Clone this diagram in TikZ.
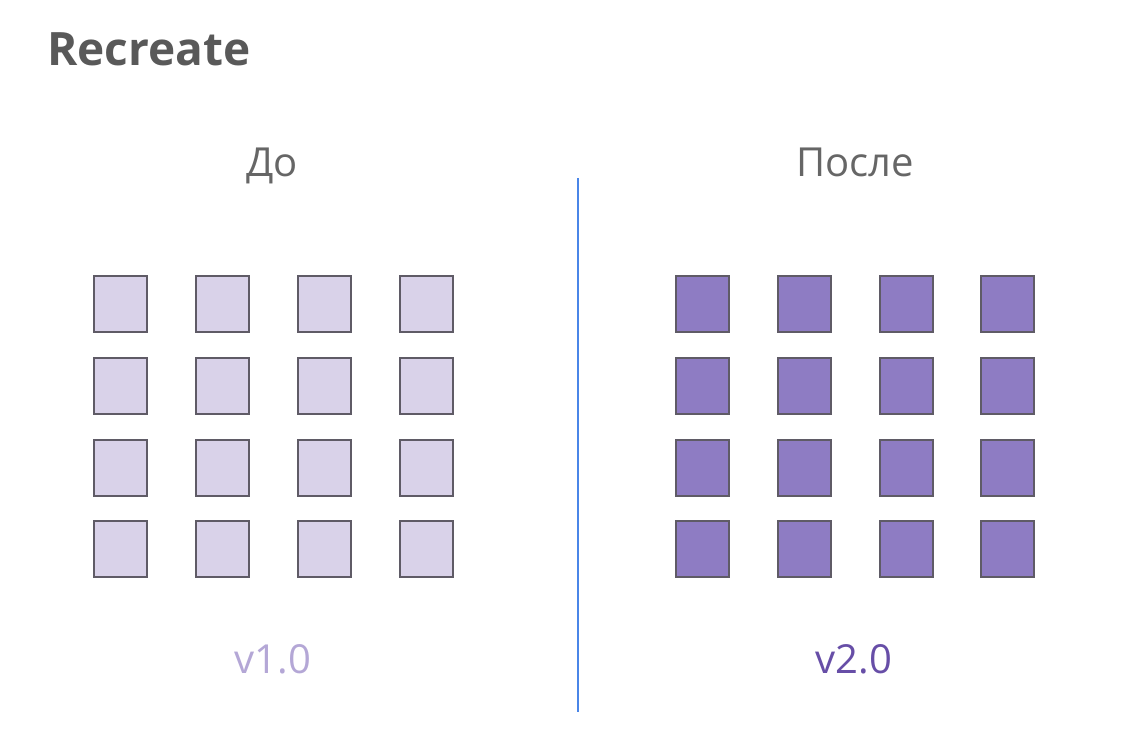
\documentclass[tikz,border=0pt]{standalone}
\usepackage{fontspec}
\setmainfont{Open Sans}
\usepackage{xcolor}
\usetikzlibrary{positioning}
\definecolor{ink}{HTML}{595959}
\definecolor{head}{HTML}{666666}
\definecolor{edge}{HTML}{5F5B66}
\definecolor{oldfill}{HTML}{D9D2E9}
\definecolor{newfill}{HTML}{8E7CC3}
\definecolor{oldtxt}{HTML}{B4A7D6}
\definecolor{newtxt}{HTML}{674EA7}
\definecolor{divider}{HTML}{4A86E8}
\tikzset{
  pod/.style={draw=edge, line width=1.2pt, minimum width=53pt, minimum height=56pt,
              inner sep=0pt},
  podold/.style={pod, fill=oldfill},
  podnew/.style={pod, fill=newfill},
  ttl/.style={font=\fontsize{46}{52}\selectfont\bfseries, text=ink, inner sep=0pt},
  side/.style={font=\fontsize{40}{46}\selectfont, text=head, inner sep=0pt},
  ver/.style={font=\fontsize{40}{46}\selectfont, inner sep=0pt},
}

\begin{document}
\begin{tikzpicture}[x=1pt, y=-1pt]
\useasboundingbox (0,0) rectangle (1132,743);

% --- title ---
\node[ttl, anchor=base west] (title) at (47,66) {Recreate};

% --- before ---
\node[side, anchor=base] (before) at (272,177) {До};
\foreach \c [count=\i] in {120.5,222.5,324.5,426.5} {
  \foreach \r [count=\j] in {304,386,468,549} {
    \node[podold] (old-\i-\j) at (\c,\r) {};
  }
}
\node[ver, text=oldtxt, anchor=base] (vold) at (273,673) {v1.0};

% --- divider ---
\coordinate (topcut) at (578,178);
\coordinate (botcut) at (578,712);
\draw[divider, line width=1.3pt] (topcut) -- (botcut);

% --- after ---
\node[side, anchor=base] (after) at (855,177) {После};
\foreach \c [count=\i] in {702.5,804.5,906.5,1007.5} {
  \foreach \r [count=\j] in {304,386,468,549} {
    \node[podnew] (new-\i-\j) at (\c,\r) {};
  }
}
\node[ver, text=newtxt, anchor=base] (vnew) at (854,673) {v2.0};

\end{tikzpicture}
\end{document}
